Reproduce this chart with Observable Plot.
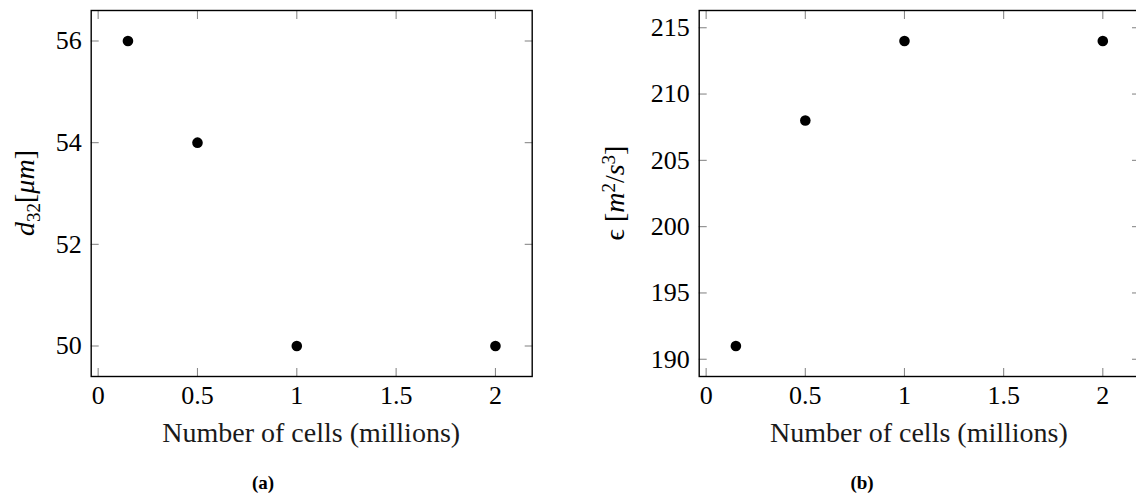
<!DOCTYPE html>
<html><head><meta charset="utf-8">
<script src="https://cdn.jsdelivr.net/npm/d3@7"></script>
<script src="https://cdn.jsdelivr.net/npm/@observablehq/plot@0.6"></script>
<style>
html,body{margin:0;padding:0;background:#fff;overflow:hidden;width:1136px;height:496px}
#wrap{position:relative;width:1136px;height:496px;overflow:hidden}
.panel{position:absolute;top:0}
#wrap svg text, #wrap svg tspan{font-family:"Liberation Serif","DejaVu Serif","Times New Roman",serif !important}
.cap{position:absolute;font-family:"Liberation Serif","DejaVu Serif",serif;font-weight:bold;font-size:19px;transform:translateX(-50%);line-height:1;color:#000}
</style></head><body><div id="wrap"></div>
<script>
// ---- data ----
const cells = [0.15, 0.5, 1, 2];          // millions of cells
const d32 = [56, 54, 50, 50];             // d32 [um]
const epsilon = [191, 208, 214, 214];     // epsilon [m2/s3]
const xTicks = [0, 0.5, 1, 1.5, 2];
const d32Ticks = [50, 52, 54, 56];
const epsTicks = [190, 195, 200, 205, 210, 215];
const xLabel = "Number of cells (millions)";
const captions = ["(a)", "(b)"];

const FONT = "'Liberation Serif', 'DejaVu Serif', serif";
const wrap = document.getElementById("wrap");

function panel({left, width, marginLeft, marginRight, values, yDomain, yTicks}) {
  const data = cells.map((c, i) => ({x: c, y: values[i]}));
  const tickStyle = {stroke: "#8a8a8a", strokeWidth: 1.1, fill: "none", tickSize: -8, label: null};
  const svg = Plot.plot({
    width, height: 460,
    marginLeft, marginRight, marginTop: 10, marginBottom: 84,
    style: {fontFamily: FONT, fontSize: "26px", background: "transparent", color: "#000"},
    x: {domain: [-0.035, 2.185], ticks: xTicks, label: null},
    y: {domain: yDomain, ticks: yTicks, label: null},
    marks: [
      Plot.axisX(xTicks, {anchor: "bottom", ...tickStyle}),
      Plot.axisX(xTicks, {anchor: "top", ...tickStyle}),
      Plot.axisY(yTicks, {anchor: "left", ...tickStyle}),
      Plot.axisY(yTicks, {anchor: "right", ...tickStyle}),
      Plot.axisX(xTicks, {anchor: "bottom", tickSize: 0, tickPadding: 9, fontSize: 26, fill: "#000", label: null, tickFormat: d => String(d)}),
      Plot.axisY(yTicks, {anchor: "left", tickSize: 0, tickPadding: 9.5, fontSize: 26, fill: "#000", label: null, tickFormat: d => String(d)}),
      Plot.frame({stroke: "#000", strokeWidth: 1.4}),
      Plot.dot(data, {x: "x", y: "y", r: 5.3, fill: "#000", stroke: "none"})
    ]
  });
  svg.classList.add("panel");
  svg.style.left = left + "px";
  svg.style.overflow = "visible";
  wrap.appendChild(svg);
  return svg;
}

function addXLabel(svg) {
  const xs = svg.scale("x").range;
  const ys = svg.scale("y").range;
  d3.select(svg).append("text")
    .attr("x", (xs[0] + xs[1]) / 2)
    .attr("y", Math.max(ys[0], ys[1]) + 65.7)
    .attr("text-anchor", "middle")
    .attr("font-size", 28)
    .attr("fill", "#1a1a1a")
    .text(xLabel);
}

function addYLabel(svg, xPos, parts) {
  const ys = svg.scale("y").range;
  const cy = (ys[0] + ys[1]) / 2;
  const t = d3.select(svg).append("text")
    .attr("transform", `translate(${xPos},${cy}) rotate(-90)`)
    .attr("text-anchor", "middle")
    .attr("font-size", 28)
    .attr("fill", "#000");
  parts.forEach(p => {
    const s = t.append("tspan").text(p.t);
    if (p.i) s.attr("font-style", "italic");
    if (p.sub) s.attr("font-size", 19).attr("dy", "0.3em");
    if (p.sup) s.attr("font-size", 19).attr("dy", "-0.45em");
    if (p.reset) s.attr("dy", p.reset);
  });
}

const a = panel({left: 0, width: 560, marginLeft: 90.7, marginRight: 28.3,
  values: d32, yDomain: [49.4, 56.6], yTicks: d32Ticks});
addXLabel(a);
addYLabel(a, 34, [
  {t: "d", i: true},
  {t: "32", sub: true},
  {t: "[", reset: "-0.2em"},
  {t: "μm", i: true},
  {t: "]"}
]);

const b = panel({left: 576, width: 580, marginLeft: 122.7, marginRight: 17,
  values: epsilon, yDomain: [188.7, 216.3], yTicks: epsTicks});
addXLabel(b);
addYLabel(b, 624 - 576, [
  {t: "ϵ "},
  {t: "["},
  {t: "m", i: true},
  {t: "2", sup: true},
  {t: "/", reset: "0.3em"},
  {t: "s", i: true},
  {t: "3", sup: true},
  {t: "]", reset: "0.3em"}
]);

// captions
[[captions[0], 263], [captions[1], 862]].forEach(([txt, cx]) => {
  const d = document.createElement("div");
  d.className = "cap";
  d.textContent = txt;
  d.style.left = cx + "px";
  d.style.top = "473px";
  wrap.appendChild(d);
});
</script></body></html>
